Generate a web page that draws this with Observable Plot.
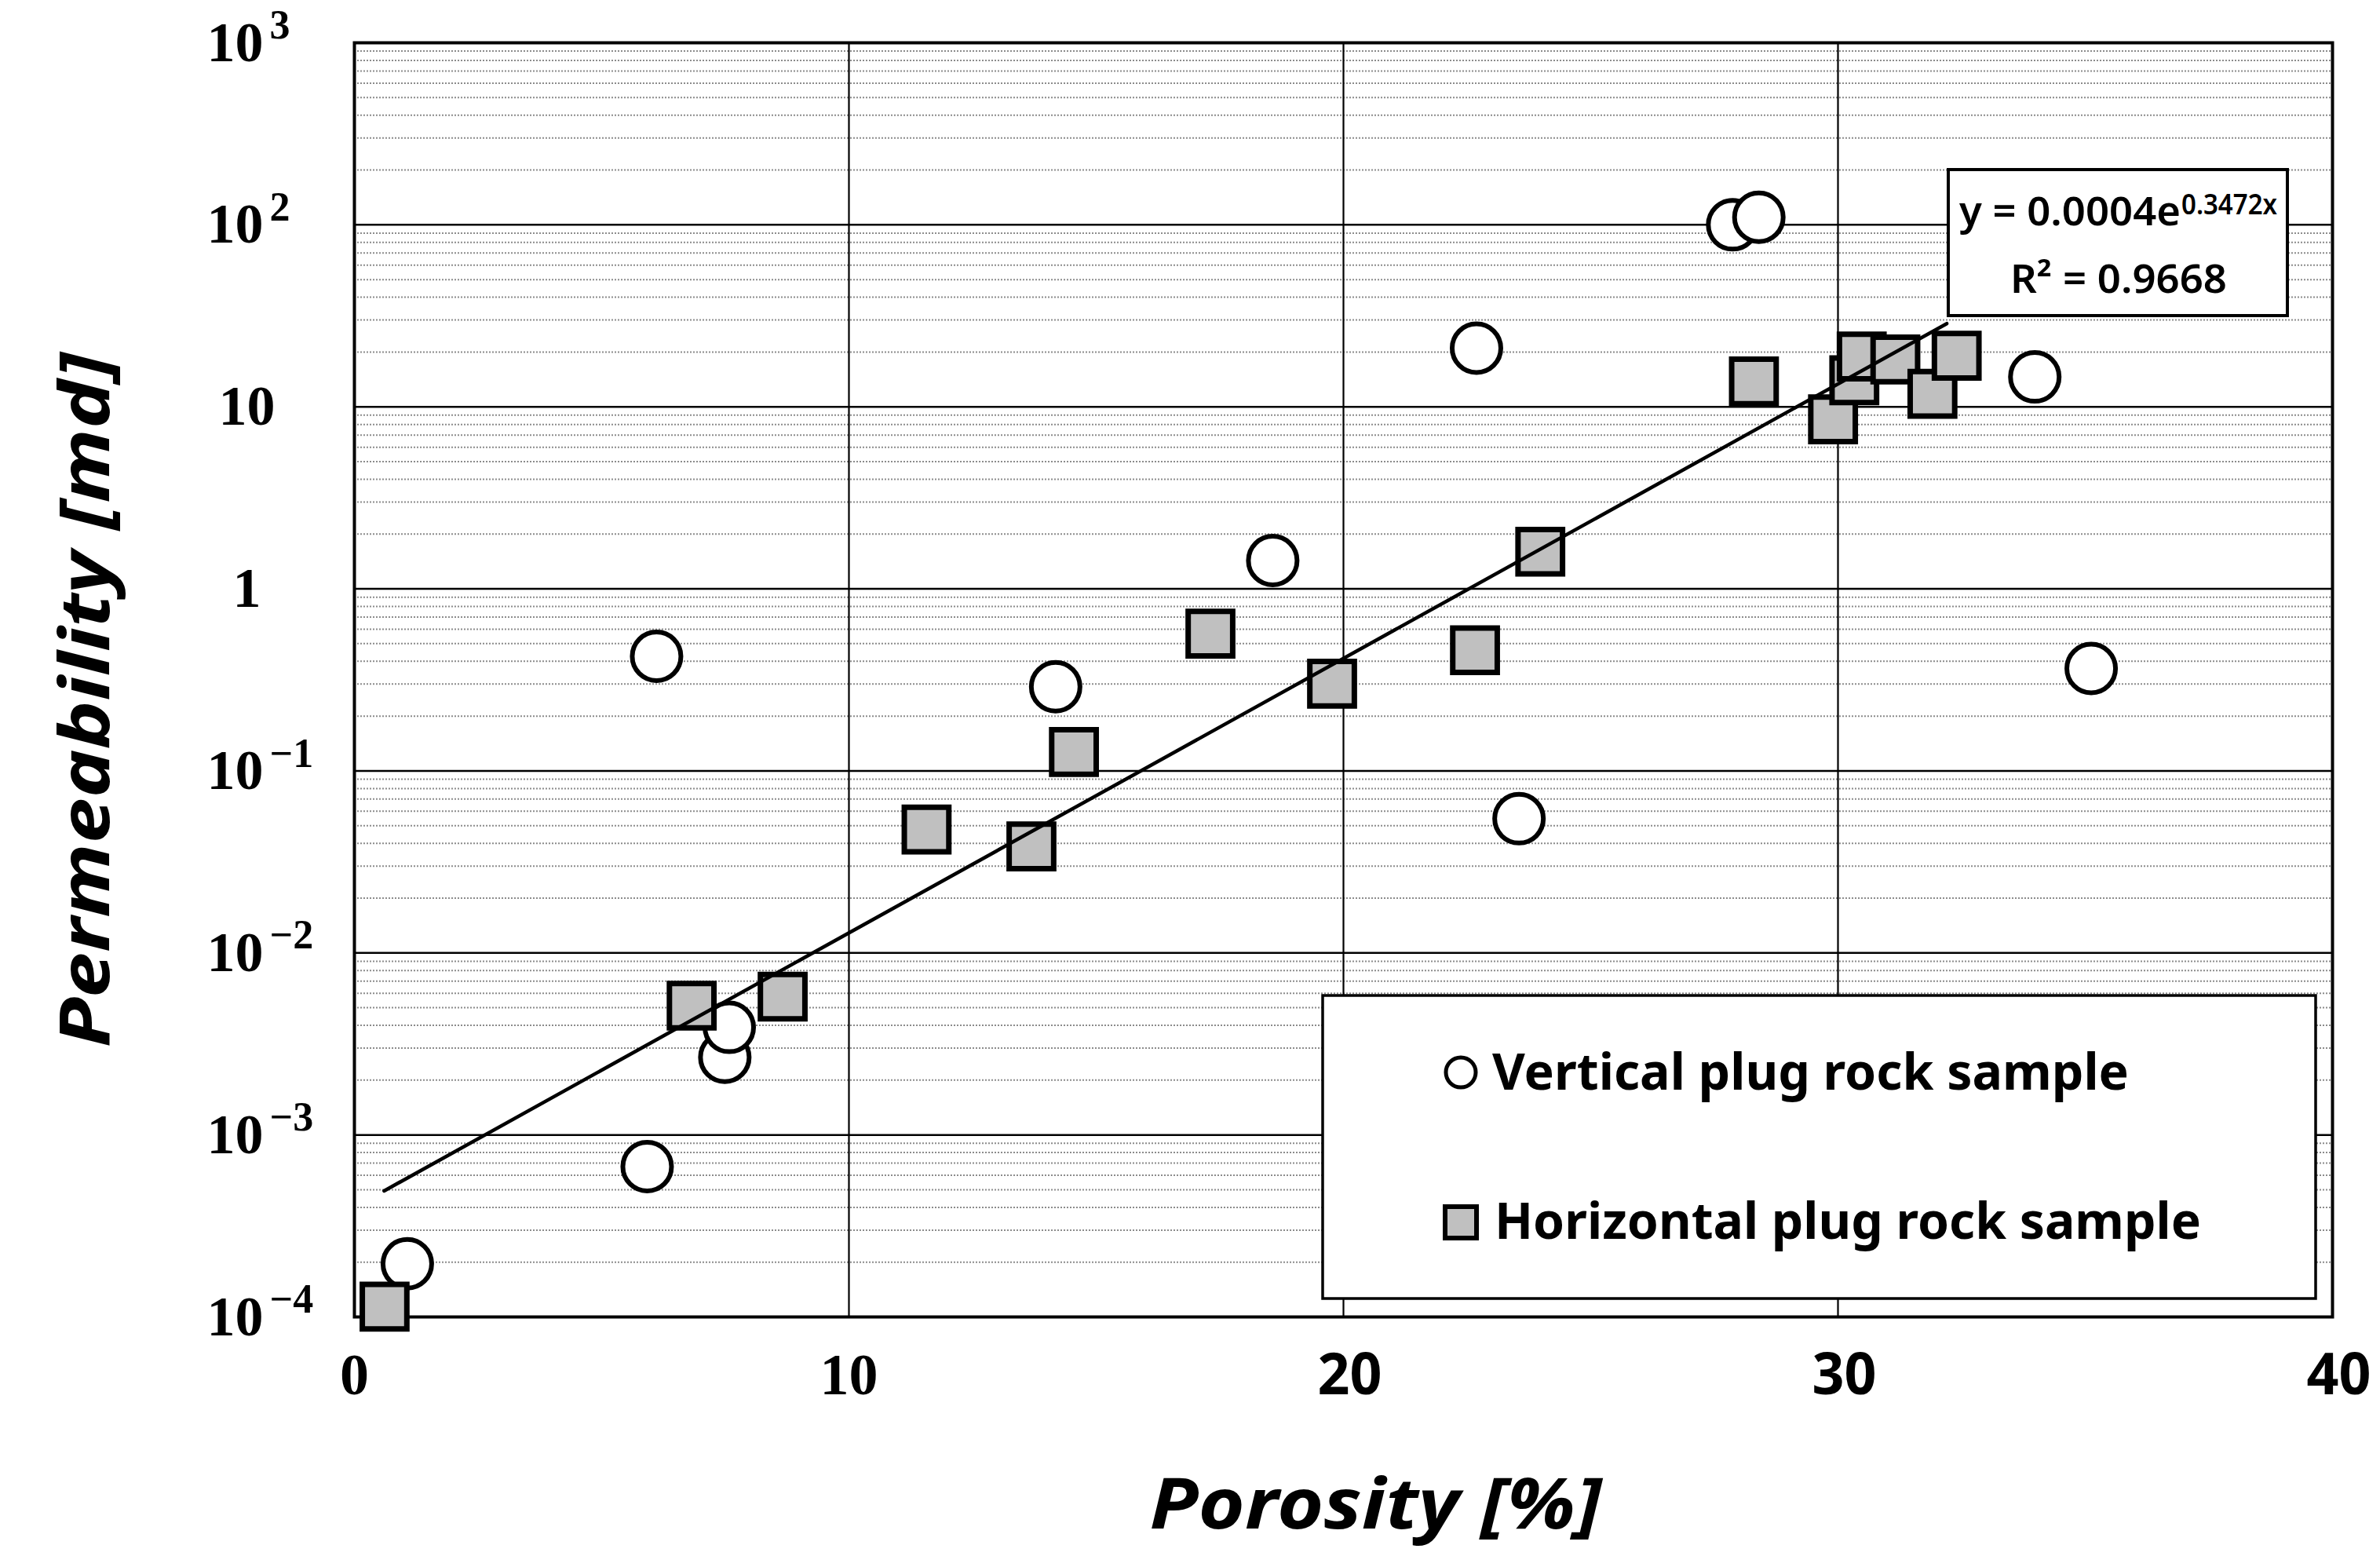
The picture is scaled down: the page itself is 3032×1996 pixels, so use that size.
<!DOCTYPE html>
<html><head><meta charset="utf-8">
<script src="https://cdn.jsdelivr.net/npm/d3@7"></script>
<script src="https://cdn.jsdelivr.net/npm/@observablehq/plot@0.6"></script>
<style>
html,body{margin:0;padding:0;background:#fff;}
#chart{position:relative;width:3032px;height:1996px;}
</style></head><body><div id="chart"></div>
<script>
// ---- data ----
const verticalPorosity = [1.07, 5.92, 7.49, 7.58, 6.11, 14.18, 18.57, 23.55, 22.69, 27.87, 28.40, 33.98, 35.12];
const verticalPerm     = [1.96e-4, 6.7e-4, 2.67e-3, 3.9e-3, 0.426, 0.29, 1.43, 0.0546, 21, 100, 110, 14.6, 0.365];
const horizontalPorosity = [0.61, 6.82, 8.66, 11.57, 13.69, 14.55, 17.31, 19.77, 22.66, 23.98, 28.30, 29.90, 30.33, 30.48, 31.16, 31.91, 32.40];
const horizontalPerm     = [1.14e-4, 5.13e-3, 5.75e-3, 0.0476, 0.0385, 0.127, 0.567, 0.301, 0.46, 1.60, 13.8, 8.53, 14.0, 18.9, 18.2, 11.8, 19.1];
const trendA = 0.0004, trendB = 0.3472;
const trendRange = [0.6, 32.2];
const yTicks    = [1e-4, 1e-3, 1e-2, 1e-1, 1, 10, 100, 1000];
const yTickBase = ["10", "10", "10", "10", "1", "10", "10", "10"];
const yTickExp  = ["\u22124", "\u22123", "\u22122", "\u22121", "", "", "2", "3"];
const xTicksSerif = [0, 10];
const xTicksSans  = [20, 30, 40];
const xGrid = [10, 20, 30];
const xLabel = "Porosity [%]";
const yLabel = "Permeability [md]";
const seriesNames = ["Vertical plug rock sample", "Horizontal plug rock sample"];
const equationMain = "y = 0.0004e";
const equationExp = "0.3472x";
const r2Text = "R\u00B2 = 0.9668";

// ---- derived ----
const vertical = verticalPorosity.map((x, i) => ({x, y: verticalPerm[i]}));
const horizontal = horizontalPorosity.map((x, i) => ({x, y: horizontalPerm[i]}));
const trend = trendRange.map(x => ({x, y: trendA * Math.exp(trendB * x)}));
const minorTicks = d3.scaleLog().domain([1e-4, 1e3]).ticks()
  .filter(t => !yTicks.some(m => Math.abs(m - t) / m < 1e-9));

const serif = "'Liberation Serif', 'DejaVu Serif', serif";
const sans = "'Noto Sans', 'Open Sans', sans-serif";

const plot = Plot.plot({
  width: 3032, height: 1996,
  marginLeft: 451, marginRight: 61, marginTop: 54, marginBottom: 319,
  style: {background: "#fff", overflow: "visible"},
  x: {domain: [0, 40], axis: null},
  y: {type: "log", domain: [1e-4, 1e3], axis: null},
  marks: [
    Plot.ruleY(minorTicks, {stroke: "#8c8c8c", strokeWidth: 2, strokeDasharray: "2,2"}),
    Plot.ruleY(yTicks, {stroke: "#000", strokeWidth: 2.5}),
    Plot.ruleX(xGrid, {stroke: "#000", strokeWidth: 2.2}),
    Plot.frame({stroke: "#000", strokeWidth: 4}),
    Plot.dot(vertical, {x: "x", y: "y", r: 31, fill: "#fff", stroke: "#000", strokeWidth: 6}),
    Plot.dot(horizontal, {x: "x", y: "y", symbol: "square", r: 32, fill: "#c0c0c0", stroke: "#000", strokeWidth: 7}),
    Plot.line(trend, {x: "x", y: "y", stroke: "#000", strokeWidth: 4.5}),
    // y tick labels
    Plot.text(yTicks, {y: d => d, text: (d, i) => yTickBase[i], filter: (d, i) => yTickExp[i] !== "",
      frameAnchor: "left", dx: -188, textAnchor: "start", lineAnchor: "middle",
      fontFamily: serif, fontWeight: "bold", fontSize: 72, fill: "#000"}),
    Plot.text(yTicks, {y: d => d, text: (d, i) => yTickExp[i], filter: (d, i) => yTickExp[i] !== "",
      frameAnchor: "left", dx: -108, dy: -22, textAnchor: "start", lineAnchor: "middle",
      fontFamily: serif, fontWeight: "bold", fontSize: 52, fill: "#000"}),
    Plot.text(yTicks, {y: d => d, text: (d, i) => yTickBase[i], filter: (d, i) => yTickExp[i] === "",
      frameAnchor: "left", dx: -137, textAnchor: "middle", lineAnchor: "middle",
      fontFamily: serif, fontWeight: "bold", fontSize: 72, fill: "#000"}),
    // x tick labels
    Plot.text(xTicksSerif, {x: d => d, text: d => String(d), frameAnchor: "bottom", dy: 75, lineAnchor: "middle",
      fontFamily: serif, fontWeight: "bold", fontSize: 74, fill: "#000"}),
    Plot.text(xTicksSans, {x: d => d, text: d => String(d), frameAnchor: "bottom", dy: 75, dx: 8, lineAnchor: "middle",
      fontFamily: sans, fontWeight: "bold", fontSize: 74, fill: "#000"}),
    // axis titles
    Plot.text([yLabel], {text: d => d, frameAnchor: "left", dx: -341, dy: 26, rotate: -90,
      lineAnchor: "middle", textAnchor: "middle",
      fontFamily: sans, fontWeight: "bold", fontStyle: "italic", fontSize: 88, fill: "#000"}),
    Plot.text([xLabel], {text: d => d, frameAnchor: "bottom", dx: 41, dy: 241,
      lineAnchor: "middle", textAnchor: "middle",
      fontFamily: sans, fontWeight: "bold", fontStyle: "italic", fontSize: 90, fill: "#000"})
  ]
});
document.getElementById("chart").appendChild(plot);

// fit axis title widths and sans tick labels
const svg = d3.select(plot);
svg.selectAll("text").each(function() {
  const t = d3.select(this);
  const s = this.textContent;
  if (s === yLabel) t.attr("textLength", 885).attr("lengthAdjust", "spacingAndGlyphs");
  if (s === xLabel) t.attr("textLength", 576).attr("lengthAdjust", "spacingAndGlyphs");
  if (xTicksSans.map(String).includes(s)) t.attr("textLength", 82).attr("lengthAdjust", "spacingAndGlyphs");
});

function addText(g, x, y, str, size, len, weight) {
  return g.append("text").attr("x", x).attr("y", y).text(str)
    .attr("text-anchor", "start")
    .attr("font-family", sans).attr("font-weight", weight || "bold").attr("font-size", size)
    .attr("fill", "#000")
    .attr("textLength", len).attr("lengthAdjust", "spacingAndGlyphs");
}

// legend box
const lg = svg.append("g");
lg.append("rect").attr("x", 1685).attr("y", 1268).attr("width", 1265).attr("height", 386)
  .attr("fill", "#fff").attr("stroke", "#000").attr("stroke-width", 3.5);
lg.append("circle").attr("cx", 1861).attr("cy", 1366).attr("r", 19)
  .attr("fill", "#fff").attr("stroke", "#000").attr("stroke-width", 5);
lg.append("rect").attr("x", 1841).attr("y", 1537).attr("width", 40).attr("height", 40)
  .attr("fill", "#c0c0c0").attr("stroke", "#000").attr("stroke-width", 6);
addText(lg, 1901, 1388, seriesNames[0], 64, 811);
addText(lg, 1904, 1578, seriesNames[1], 64, 900);

// equation box
const eg = svg.append("g");
eg.append("rect").attr("x", 2482).attr("y", 216).attr("width", 432).attr("height", 186)
  .attr("fill", "#fff").attr("stroke", "#000").attr("stroke-width", 4);
addText(eg, 2496, 287, equationMain, 50, 282, 600);
addText(eg, 2779, 273, equationExp, 36, 122, 600);
addText(eg, 2561, 373, r2Text, 50, 276, 600);
</script></body></html>
